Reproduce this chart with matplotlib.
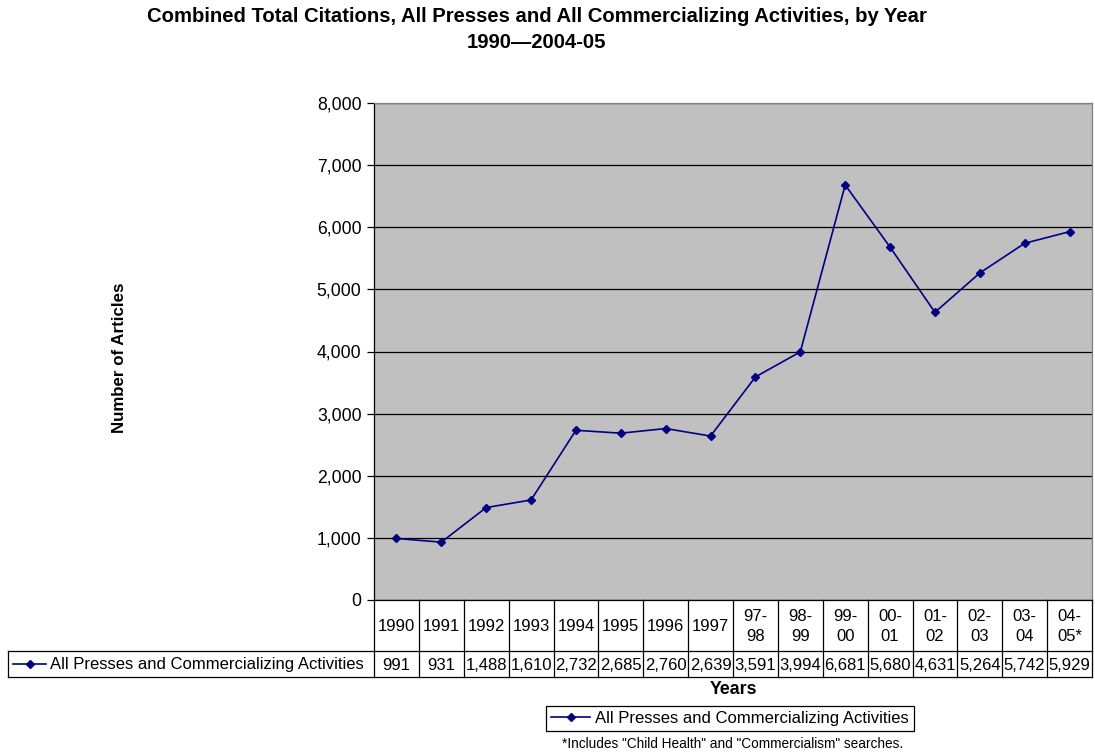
import matplotlib
matplotlib.use("Agg")
import matplotlib.pyplot as plt
import matplotlib.transforms as mtransforms
from matplotlib.lines import Line2D

plt.rcParams['font.family'] = ['Liberation Sans', 'DejaVu Sans']

years = ["1990", "1991", "1992", "1993", "1994", "1995", "1996", "1997",
         "97-\n98", "98-\n99", "99-\n00", "00-\n01", "01-\n02", "02-\n03", "03-\n04", "04-\n05*"]
articles = [991, 931, 1488, 1610, 2732, 2685, 2760, 2639,
            3591, 3994, 6681, 5680, 4631, 5264, 5742, 5929]
series_name = "All Presses and Commercializing Activities"
line_color = "#000080"

W, H = 1095, 756
fig = plt.figure(figsize=(W / 100, H / 100), dpi=100)

def fy(py):
    # pixel row from top -> figure fraction
    return 1 - py / H

def fx(px):
    return px / W

left, right, top, bottom = 374, 1092, 103, 600
ax = fig.add_axes([fx(left), fy(bottom), fx(right - left), fy(top) - fy(bottom)])
ax.set_facecolor("#C0C0C0")

xs = list(range(len(years)))
ax.plot(xs, articles, color=line_color, lw=1.2, marker="D", ms=4.5,
        markerfacecolor=line_color, markeredgecolor=line_color, label=series_name)

ax.set_xlim(-0.5, len(years) - 0.5)
ax.set_ylim(0, 8000)
ax.set_yticks(range(0, 8001, 1000))
ax.set_yticklabels(["{:,}".format(v) for v in range(0, 8001, 1000)], fontsize=12.7)
ax.yaxis.grid(True, color="black", lw=0.9)
ax.set_axisbelow(True)
ax.tick_params(axis="y", length=5, width=0.9, pad=4)
ax.tick_params(axis="x", length=0, labelbottom=False)
for s in ["left", "bottom", "top", "right"]:
    ax.spines[s].set_linewidth(0.9)
ax.spines["top"].set_color("#808080")
ax.spines["right"].set_color("#808080")

# data table under the plot
trans = mtransforms.blended_transform_factory(ax.transData, fig.transFigure)
hdr_top, hdr_bot, row_bot = 600, 651, 677
lk = dict(color="black", lw=0.9, clip_on=False)
for i in range(len(years) + 1):
    xb = i - 0.5
    fig.add_artist(Line2D([xb, xb], [fy(hdr_top), fy(row_bot)], transform=trans, **lk))
fig.add_artist(Line2D([-0.5, len(years) - 0.5], [fy(hdr_bot), fy(hdr_bot)], transform=trans, **lk))
fig.add_artist(Line2D([fx(8), fx(left)], [fy(hdr_bot), fy(hdr_bot)], transform=fig.transFigure, **lk))
fig.add_artist(Line2D([-0.5, len(years) - 0.5], [fy(row_bot), fy(row_bot)], transform=trans, **lk))
fig.add_artist(Line2D([fx(8), fx(left)], [fy(row_bot), fy(row_bot)], transform=fig.transFigure, **lk))
fig.add_artist(Line2D([fx(8), fx(8)], [fy(hdr_bot), fy(row_bot)], transform=fig.transFigure, **lk))

for i, (lab, val) in enumerate(zip(years, articles)):
    fig.text(i, fy((hdr_top + hdr_bot) / 2 + 1), lab, transform=trans, ha="center", va="center",
             fontsize=12, linespacing=1.45)
    fig.text(i, fy((hdr_bot + row_bot) / 2 + 1), "{:,}".format(val), transform=trans,
             ha="center", va="center", fontsize=12)

# legend key in the row label cell
ymid = fy((hdr_bot + row_bot) / 2)
fig.add_artist(Line2D([fx(13), fx(46)], [ymid, ymid], transform=fig.transFigure, color=line_color, lw=1.2))
fig.add_artist(Line2D([fx(29.5)], [ymid], transform=fig.transFigure, color=line_color, marker="D", ms=4.5))
fig.text(fx(50), fy((hdr_bot + row_bot) / 2 + 1), series_name, ha="left", va="center", fontsize=12)

# titles and labels
fig.text(fx(537), fy(16), "Combined Total Citations, All Presses and All Commercializing Activities, by Year",
         ha="center", va="center", fontsize=14.6, fontweight="bold")
fig.text(fx(537), fy(42), "1990\u20142004-05", ha="center", va="center", fontsize=14.6, fontweight="bold")
fig.text(fx(120), fy(358), "Number of Articles", rotation=90, ha="center", va="center",
         fontsize=12.2, fontweight="bold")
fig.text(fx(733), fy(690), "Years", ha="center", va="center", fontsize=12.8, fontweight="bold")

leg = fig.legend(loc="center", bbox_to_anchor=(fx(730), fy(718)), fontsize=12, frameon=True,
                 fancybox=False, edgecolor="black", framealpha=1, borderpad=0.3,
                 handlelength=2.3, handletextpad=0.3)
leg.get_frame().set_linewidth(0.9)

fig.text(fx(733), fy(744), '*Includes "Child Health" and "Commercialism" searches.',
         ha="center", va="center", fontsize=9.8)

fig.savefig("out.png", dpi=100)
